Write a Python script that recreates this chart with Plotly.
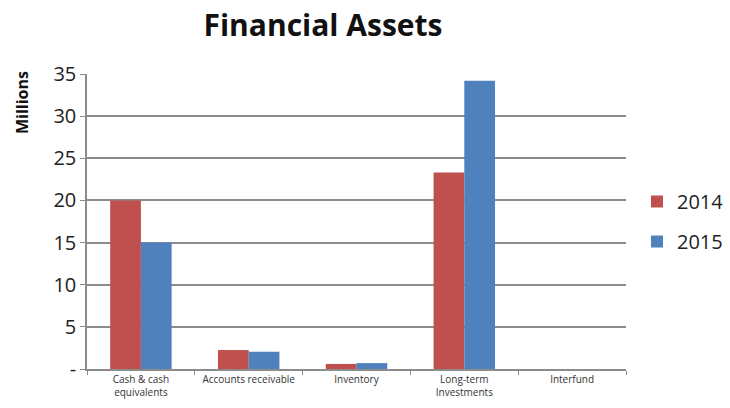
import plotly.graph_objects as go

# Financial assets by category, in millions
categories = ["Cash & cash<br>equivalents", "Accounts receivable", "Inventory",
              "Long-term<br>Investments", "Interfund"]
values_2014 = [20.0, 2.25, 0.6, 23.3, 0.0]
values_2015 = [15.0, 2.05, 0.7, 34.2, 0.0]
y_ticks = [0, 5, 10, 15, 20, 25, 30, 35]
y_tick_labels = ["-", "5", "10", "15", "20", "25", "30", "35"]

W, H = 730, 408
L, R, T, B = 87, 104, 74, 39

fig = go.Figure()
fig.add_trace(go.Bar(name="2014", x=categories, y=values_2014,
                     marker=dict(color="#C0504D", line=dict(width=0)),
                     legendgroup="a"))
fig.add_trace(go.Bar(name="2015", x=categories, y=values_2015,
                     marker=dict(color="#4F81BD", line=dict(width=0)),
                     legendgroup="b"))

grid = "#8c8c8c"
fig.update_layout(
    width=W, height=H,
    margin=dict(l=L, r=R, t=T, b=B, autoexpand=False),
    paper_bgcolor="white", plot_bgcolor="white",
    barmode="group", bargap=0.43, bargroupgap=0,
    font=dict(family="Open Sans", color="#222222"),
    title=dict(text="<b>Financial Assets</b>", xref="container", yref="container",
               x=323 / W, y=1 - 25 / H, xanchor="center", yanchor="middle",
               font=dict(family="Open Sans", size=30, color="#111111")),
    legend=dict(xref="paper", yref="paper", x=(637 - L) / (W - L - R),
                y=1 - (182 - T) / (H - T - B), xanchor="left", yanchor="top",
                font=dict(size=20, color="#222222"), tracegroupgap=11,
                traceorder="grouped", bgcolor="rgba(0,0,0,0)"),
    xaxis=dict(type="category", tickson="boundaries", ticks="outside",
               ticklen=4, tickcolor=grid, showline=True, linecolor=grid,
               linewidth=1.5, showgrid=False,
               tickfont=dict(size=10, color="#333333")),
    yaxis=dict(range=[0, 35], tickvals=y_ticks, ticktext=y_tick_labels,
               ticks="outside", ticklen=5, tickcolor=grid, showline=True,
               linecolor=grid, linewidth=1.5, showgrid=True, gridcolor=grid,
               gridwidth=1.5, zeroline=False,
               tickfont=dict(size=20, color="#222222")),
    annotations=[dict(text="<b>Millions</b>", xref="paper", yref="paper",
                      x=-(L - 22) / (W - L - R), y=1 - (103 - T) / (H - T - B),
                      xanchor="center", yanchor="middle", textangle=-90,
                      showarrow=False,
                      font=dict(family="Open Sans", size=16, color="#111111"))],
)

fig.write_html("out.html")
